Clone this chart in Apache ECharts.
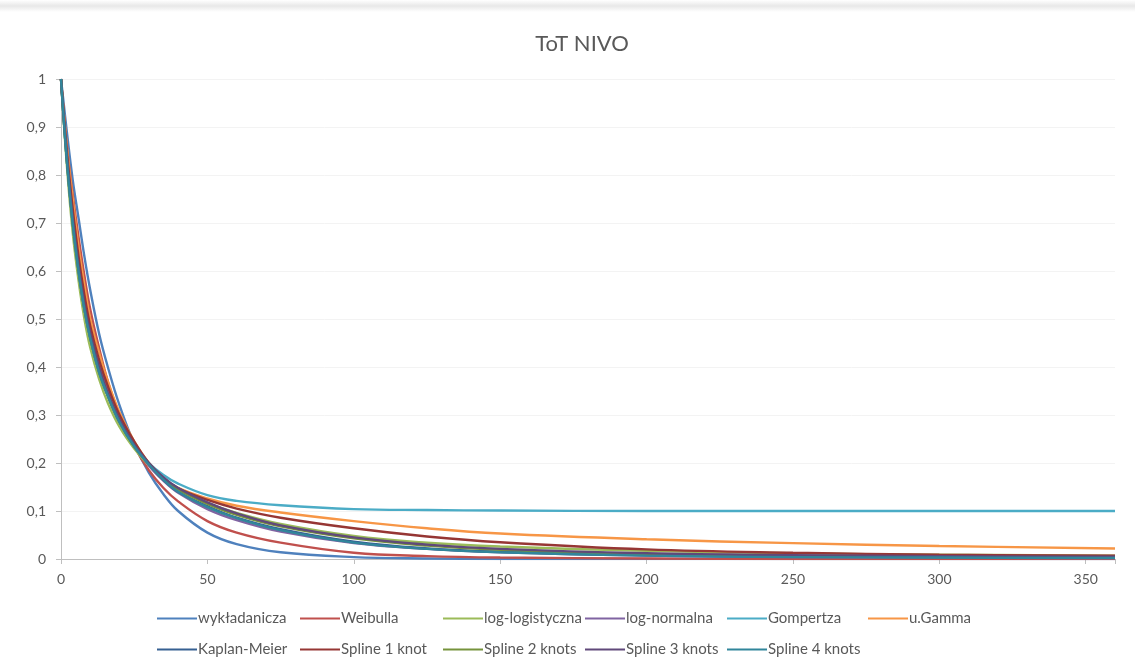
<!DOCTYPE html>
<html>
<head>
<meta charset="utf-8">
<title>ToT NIVO</title>
<script src="https://cdn.jsdelivr.net/npm/echarts@6/dist/echarts.min.js"></script>
<style>
  html, body { margin: 0; padding: 0; background: #ffffff; }
  #chart { width: 1135px; height: 664px; }
</style>
</head>
<body>
<div id="chart"></div>
<script>
// Time points (months) at which each survival curve is sampled
const timePoints = [0, 2, 4, 6, 8, 10, 13, 16, 20, 25, 30, 35, 40, 50, 60, 75, 100, 125, 150, 200, 250, 300, 360];

// Survival probabilities per model
const wykladanicza    = [1, 0.89, 0.79, 0.71, 0.63, 0.56, 0.47, 0.40, 0.32, 0.24, 0.18, 0.135, 0.10, 0.055, 0.031, 0.014, 0.004, 0.001, 0, 0, 0, 0, 0];
const weibulla        = [1, 0.86, 0.76, 0.67, 0.59, 0.52, 0.44, 0.37, 0.30, 0.235, 0.185, 0.148, 0.12, 0.079, 0.055, 0.034, 0.013, 0.006, 0.003, 0.001, 0, 0, 0];
const logLogistyczna  = [1, 0.82, 0.68, 0.58, 0.50, 0.44, 0.375, 0.325, 0.275, 0.23, 0.195, 0.168, 0.147, 0.117, 0.096, 0.073, 0.048, 0.034, 0.026, 0.017, 0.012, 0.009, 0.007];
const logNormalna     = [1, 0.84, 0.72, 0.62, 0.54, 0.48, 0.41, 0.355, 0.295, 0.24, 0.195, 0.163, 0.138, 0.104, 0.081, 0.057, 0.033, 0.021, 0.014, 0.007, 0.004, 0.003, 0.002];
const gompertza       = [1, 0.83, 0.70, 0.60, 0.52, 0.46, 0.39, 0.34, 0.285, 0.235, 0.20, 0.175, 0.157, 0.133, 0.121, 0.112, 0.104, 0.102, 0.101, 0.1, 0.1, 0.1, 0.1];
const uGamma          = [1, 0.86, 0.75, 0.65, 0.57, 0.50, 0.43, 0.37, 0.305, 0.245, 0.20, 0.168, 0.148, 0.126, 0.111, 0.097, 0.079, 0.064, 0.053, 0.041, 0.033, 0.027, 0.022];
const kaplanMeier     = [1, 0.83, 0.70, 0.60, 0.52, 0.46, 0.39, 0.34, 0.285, 0.235, 0.198, 0.165, 0.14, 0.11, 0.086, 0.062, 0.036, 0.022, 0.015, 0.008, 0.005, 0.004, 0.003];
const spline1         = [1, 0.85, 0.73, 0.63, 0.55, 0.485, 0.415, 0.36, 0.30, 0.245, 0.20, 0.168, 0.147, 0.123, 0.105, 0.086, 0.064, 0.047, 0.035, 0.02, 0.013, 0.009, 0.007];
const spline2         = [1, 0.83, 0.70, 0.60, 0.52, 0.46, 0.39, 0.34, 0.285, 0.235, 0.198, 0.168, 0.145, 0.115, 0.092, 0.068, 0.043, 0.028, 0.019, 0.01, 0.006, 0.004, 0.003];
const spline3         = [1, 0.84, 0.71, 0.61, 0.53, 0.47, 0.40, 0.345, 0.29, 0.238, 0.20, 0.17, 0.148, 0.118, 0.095, 0.07, 0.045, 0.03, 0.021, 0.012, 0.008, 0.006, 0.005];
const spline4         = [1, 0.83, 0.70, 0.60, 0.52, 0.46, 0.39, 0.34, 0.285, 0.235, 0.197, 0.165, 0.14, 0.108, 0.085, 0.06, 0.034, 0.021, 0.014, 0.007, 0.004, 0.003, 0.002];

const seriesNames = ['wykładanicza', 'Weibulla', 'log-logistyczna', 'log-normalna', 'Gompertza', 'u.Gamma',
                     'Kaplan-Meier', 'Spline 1 knot', 'Spline 2 knots', 'Spline 3 knots', 'Spline 4 knots'];
const seriesValues = [wykladanicza, weibulla, logLogistyczna, logNormalna, gompertza, uGamma,
                      kaplanMeier, spline1, spline2, spline3, spline4];
const seriesColors = ['#4F81BD', '#C0504D', '#9BBB59', '#8064A2', '#4BACC6', '#F79646',
                      '#366092', '#963634', '#76933C', '#60497A', '#31869B'];

const chart = echarts.init(document.getElementById('chart'), null, { renderer: 'canvas' });

const textColor = '#595959';
const fontFamily = 'Lato, "Open Sans", sans-serif';

// Legend laid out as a fixed grid: 6 columns in the first row, 5 in the second
const legendColumnX = [157, 300, 443, 585, 727, 868];
const legendRowY = [611, 642];
const legends = seriesNames.map((name, i) => ({
  left: legendColumnX[i % 6],
  top: legendRowY[Math.floor(i / 6)],
  padding: 0,
  itemWidth: 40,
  itemHeight: 14,
  itemGap: 0,
  icon: 'path://M0,6 L40,6 L40,8.2 L0,8.2 Z',
  textStyle: { color: textColor, fontSize: 15, fontFamily: fontFamily, padding: [0, 0, 0, -4] },
  data: [name]
}));

chart.setOption({
  backgroundColor: '#ffffff',
  animation: false,
  color: seriesColors,
  title: {
    text: 'ToT NIVO',
    left: 577,
    top: 28,
    textAlign: 'center',
    textStyle: { color: textColor, fontSize: 22, fontWeight: 'normal', fontFamily: fontFamily }
  },
  legend: legends,
  grid: { left: 61, right: 20, top: 79, bottom: 105, containLabel: false },
  xAxis: {
    type: 'value',
    min: 0,
    max: 360,
    interval: 50,
    axisLine: { show: true, lineStyle: { color: '#bfbfbf', width: 1 } },
    axisTick: { show: true, length: 5, lineStyle: { color: '#bfbfbf' } },
    splitLine: { show: false },
    axisLabel: {
      color: textColor, fontSize: 14, fontFamily: fontFamily, margin: 13,
      formatter: v => (v % 50 === 0 ? String(v) : '')
    }
  },
  yAxis: {
    type: 'value',
    min: 0,
    max: 1,
    interval: 0.1,
    axisLine: { show: true, lineStyle: { color: '#bfbfbf', width: 1 } },
    axisTick: { show: true, length: 5, lineStyle: { color: '#bfbfbf' } },
    splitLine: { show: true, lineStyle: { color: '#f3f3f3', width: 1 } },
    axisLabel: {
      color: textColor, fontSize: 14, fontFamily: fontFamily, margin: 15,
      formatter: v => String(Math.round(v * 10) / 10).replace('.', ',')
    }
  },
  graphic: [{
    type: 'rect',
    shape: { x: 0, y: 0, width: 1135, height: 12 },
    style: {
      fill: new echarts.graphic.LinearGradient(0, 0, 0, 1, [
        { offset: 0, color: '#ffffff' },
        { offset: 0.5, color: '#e8e8e8' },
        { offset: 1, color: '#ffffff' }
      ])
    },
    silent: true
  }],
  series: seriesNames.map((name, i) => ({
    name: name,
    type: 'line',
    smooth: 0.4,
    showSymbol: false,
    symbol: 'none',
    lineStyle: { width: 2.4, color: seriesColors[i] },
    itemStyle: { color: seriesColors[i] },
    data: timePoints.map((t, j) => [t, seriesValues[i][j]])
  }))
});
</script>
</body>
</html>
